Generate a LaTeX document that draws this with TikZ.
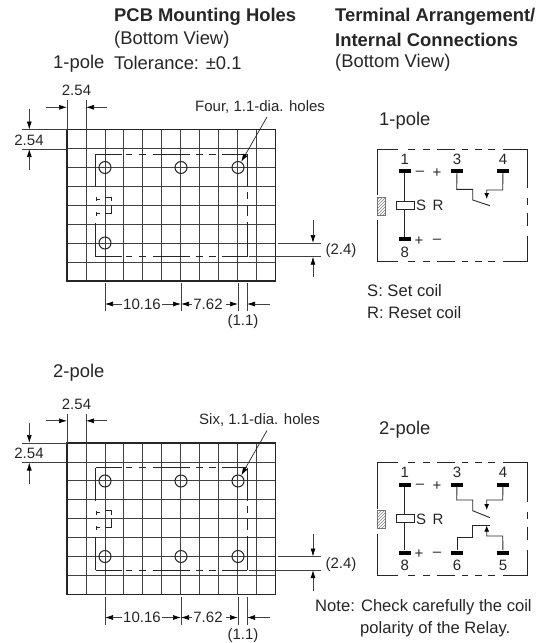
\documentclass[tikz,border=0pt]{standalone}
\usepackage{fontspec}
\setmainfont{Liberation Sans}
\usetikzlibrary{arrows.meta,patterns}

\tikzset{
    txt/.style={inner sep=0pt,font=\fontsize{15}{15}\selectfont,text=black!85},
    head/.style={txt,anchor=west,font=\fontsize{18.4}{18}\selectfont},
    bighead/.style={head,font=\fontsize{18.4}{18}\selectfont\bfseries},
    note/.style={txt,anchor=west,font=\fontsize{16.6}{17}\selectfont},
    gridline/.style={black!75,line width=0.8pt},
    outline/.style={black!85,line width=1.2pt},
    boxline/.style={black!85,line width=1pt},
    dimline/.style={black!75,line width=0.7pt},
    dimtip/.style={dimline,-{Latex[length=8pt,width=5pt,black]}},
    hole/.style={circle,draw=black!85,line width=1pt,minimum size=12pt,inner sep=0pt},
    pin/.style={fill=black,minimum width=12pt,minimum height=4pt,inner sep=0pt},
    wire/.style={black!85,line width=0.9pt}
}

\begin{document}
\begin{tikzpicture}[x=1pt,y=-1pt]
\useasboundingbox (0,0) rectangle (555,643);

% headings
\node[bighead] (pcb) at (114,17) {PCB Mounting Holes};
\node[head] (pcbview) at (114,40) {(Bottom View)};
\node[head] (tol) at (114,63) {Tolerance: ±0.1};
\node[bighead] (term) at (335,17) {Terminal Arrangement/};
\node[bighead] (conn) at (335,40) {Internal Connections};
\node[head] (termview) at (335,63) {(Bottom View)};

\node[head] (polea) at (53,64) {1-pole};
\node[head] (poleb) at (53,373) {2-pole};
\node[head] (rela) at (379,121) {1-pole};
\node[head] (relb) at (379,430) {2-pole};

\node[note] (setc) at (367,291) {S: Set coil};
\node[note] (resc) at (367,313) {R: Reset coil};
\node[note] (notea) at (315,607) {Note: Check carefully the coil};
\node[note] (noteb) at (360,629) {polarity of the Relay.};

% both footprints and both relays
\foreach \g/\dy in {a/0,b/313.5}{
\begin{scope}[shift={(0,\dy)}]
    \foreach \i in {1,...,10}
        \draw[gridline] (67+\i*18.95,129.5) -- (67+\i*18.95,281);
    \foreach \i in {1,...,7}
        \draw[gridline] (67,129.5+\i*18.94) -- (275.5,129.5+\i*18.94);
    \draw[outline] (67,129.5) rectangle (275.5,281);

    % component outline
    \foreach \a/\b in {95.5/122,126/132,139/146,152.5/190,196/203,209/216,222/247}{
        \draw[boxline] (\a,154.3) -- (\b,154.3);
        \draw[boxline] (\a,256.7) -- (\b,256.7);
    }
    \draw[boxline] (95.5,154.3) -- (95.5,187);
    \draw[boxline] (95.5,223) -- (95.5,256.7);
    \draw[boxline] (247,154.3) -- (247,187);
    \draw[boxline] (247,192) -- (247,199);
    \draw[boxline] (247,205) -- (247,216);
    \draw[boxline] (247,222) -- (247,256.7);
    \draw[boxline,line width=0.7pt] (96,197) -- (96,201) (96,199) -- (100,199) (105,197) -- (111,197) -- (111,201)
        (111,205) -- (111,213.5) -- (105,213.5) (100,213.5) -- (96,213.5) (96,212) -- (96,216);

    % dimensions
    \node[txt] (topd\g) at (76.5,90.7) {2.54};
    \draw[dimline] (67,100) -- (67,129.5);
    \draw[dimline] (86,100) -- (86,129.5);
    \draw[dimtip] (46,107.3) -- (67,107.3);
    \draw[dimtip] (107,107.3) -- (86,107.3);

    \node[txt] (leftd\g) at (29,140) {2.54};
    \draw[dimline] (22,129.5) -- (67,129.5);
    \draw[dimline] (22,149) -- (67,149);
    \draw[dimtip] (29.3,109) -- (29.3,129.5);
    \draw[dimtip] (29.3,170) -- (29.3,149);

    \node[txt] (rightd\g) at (341,251) {(2.4)};
    \draw[dimline] (278,243) -- (321,243);
    \draw[dimline] (249,256.7) -- (321,256.7);
    \draw[dimtip] (313,220) -- (313,243);
    \draw[dimtip] (313,277) -- (313,256.7);

    \node[txt] (bota\g) at (142,304) {10.16};
    \node[txt] (botb\g) at (208,304) {7.62};
    \node[txt] (botc\g) at (243,322) {(1.1)};
    \foreach \x in {105,181,238,247}
        \draw[dimline] (\x,283) -- (\x,311);
    \draw[dimtip] (bota\g.west) ++(-1,0) -- (105,304);
    \draw[dimtip] (bota\g.east) ++(1,0) -- (181,304);
    \draw[dimtip] (botb\g.west) ++(-1,0) -- (181,304);
    \draw[dimtip] (botb\g.east) ++(3,0) -- (238,304);
    \draw[dimtip] (270,304) -- (247,304);

    % terminal arrangement
    \foreach \a/\b in {377.3/398,408/415,423/430,437/455,462/468,475/482,488/495,503/527.7}{
        \draw[boxline] (\a,149) -- (\b,149);
        \draw[boxline] (\a,261.7) -- (\b,261.7);
    }
    \draw[boxline] (377.3,149) -- (377.3,195);
    \draw[boxline] (377.3,220) -- (377.3,261.7);
    \draw[boxline] (527.7,149) -- (527.7,188);
    \draw[boxline] (527.7,198) -- (527.7,205);
    \draw[boxline] (527.7,213) -- (527.7,226);
    \draw[boxline] (527.7,236) -- (527.7,261.7);
    \draw[black!55,line width=0.6pt,pattern=north east lines,pattern color=black!50] (377,197) rectangle (385,215);

    \node[pin] (p1\g) at (404.8,171) {};
    \node[pin] (p3\g) at (457,171) {};
    \node[pin] (p4\g) at (503,171) {};
    \node[pin] (p8\g) at (404.8,239) {};
    \node[txt] (n1\g) at (404.8,159) {1};
    \node[txt] (n3\g) at (457,159) {3};
    \node[txt] (n4\g) at (503,159) {4};
    \node[txt] (n8\g) at (404.8,252) {8};
    \node[txt] (mt\g) at (420,173) {--};
    \node[txt] (pt\g) at (437,173) {+};
    \node[txt] (pb\g) at (419,241) {+};
    \node[txt] (mb\g) at (437,241) {--};
    \draw[wire,line width=1pt] (p1\g) -- (p8\g);
    \node[draw=black!85,fill=white,line width=0.9pt,minimum width=18pt,minimum height=8pt,inner sep=0pt] (coil\g) at (405,205) {};
    \node[txt] (s\g) at (421,205.7) {S};
    \node[txt] (r\g) at (438,205.7) {R};
\end{scope}
}

% holes
\node[hole] (h1) at (105,167.5) {};
\node[hole] (h2) at (181,167.5) {};
\node[hole] (h3) at (238,167.5) {};
\node[hole] (h4) at (105,243) {};
\node[hole] (h5) at (105,481) {};
\node[hole] (h6) at (181,481) {};
\node[hole] (h7) at (238,481) {};
\node[hole] (h8) at (105,556.5) {};
\node[hole] (h9) at (181,556.5) {};
\node[hole] (h10) at (238,556.5) {};

\node[note,font=\fontsize{15}{15}\selectfont] (four) at (195,107) {Four, 1.1-dia. holes};
\node[note,font=\fontsize{15}{15}\selectfont] (six) at (199,420.5) {Six, 1.1-dia. holes};
\coordinate (leada) at (267,117);
\coordinate (leadb) at (267,430.5);
\draw[dimtip,black!85] (leada) -- (h3);
\draw[dimtip,black!85] (leadb) -- (h7);

% 1-pole contact
\draw[wire] (p3a) -- (456.7,189.3) -- (472.7,189.3) -- (472.7,200) -- (490,205.7);
\draw[wire,-{Latex[length=6pt,width=5pt,black]}] (p4a) -- (502.7,190) -- (486.7,190) -- (486.7,199);

% 2-pole contacts
\node[pin] (p6) at (457,552.5) {};
\node[pin] (p5) at (503,552.5) {};
\node[txt] (n6) at (457,565.5) {6};
\node[txt] (n5) at (503,565.5) {5};
\draw[wire] (p3b) -- (456.7,500) -- (472.7,500) -- (472.7,510.7) -- (490,517.7);
\draw[wire,-{Latex[length=6pt,width=5pt,black]}] (p4b) -- (502.7,500) -- (486.7,500) -- (486.7,510);
\draw[wire] (p6) -- (457,537.3) -- (472.7,537.3) -- (472.7,525) -- (490,525);
\draw[wire,-{Latex[length=6pt,width=5pt,black]}] (p5) -- (502.7,536) -- (486.7,536) -- (486.7,525.5);

\end{tikzpicture}
\end{document}
